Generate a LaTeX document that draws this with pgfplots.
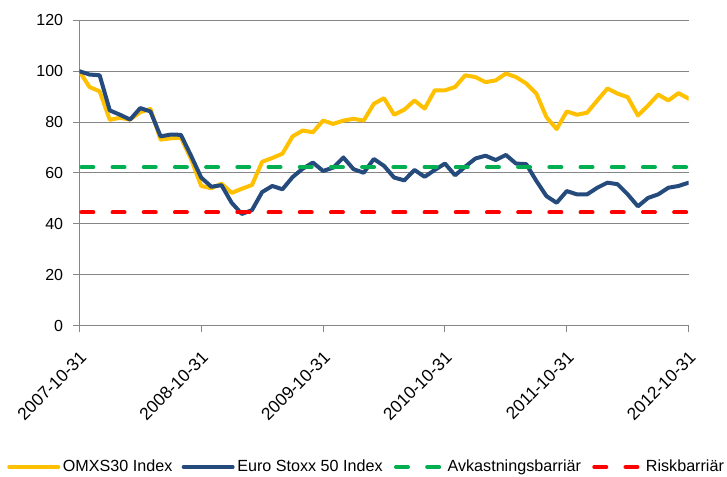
\documentclass[border=0pt]{standalone}
\usepackage{pgfplots}
\pgfplotsset{compat=1.18}
\usepackage{fontspec}
\setmainfont{Liberation Sans}
\definecolor{omx}{HTML}{FFC000}
\definecolor{eur}{HTML}{254A7C}
\definecolor{grn}{HTML}{00B050}
\definecolor{rd}{HTML}{FF0000}
\definecolor{axc}{HTML}{868686}
\begin{document}
\begin{tikzpicture}
\begin{axis}[
  at={(59.5pt,113.5pt)}, anchor=south west,
  scale only axis, width=457pt, height=229pt,
  xmin=0, xmax=60, ymin=0, ymax=120,
  axis x line=bottom, axis y line=left,
  axis line style={axc, line width=0.75pt, -},
  xtick={0,12,24,36,48,60},
  xticklabels={2007-10-31,2008-10-31,2009-10-31,2010-10-31,2011-10-31,2012-10-31},
  ytick={0,20,...,120},
  ymajorgrids, grid style={axc, line width=0.75pt},
  tick align=outside, major tick length=4.5pt,
  tick style={axc, line width=0.75pt},
  minor tick num=0,
  font=\fontsize{12}{14}\selectfont,
  /pgf/number format/assume math mode=true,
  yticklabel style={inner sep=0pt, anchor=east},
  yticklabel shift=7.5pt,
  xticklabel style={xshift=3pt, rotate=45, anchor=east, inner sep=0pt, font=\fontsize{13}{15}\selectfont},
  xticklabel shift=17pt,
  legend style={at={(-0.1187,-0.4629)}, anchor=west, draw=none, fill=none,
    inner sep=0pt, font=\fontsize{12.1}{14}\selectfont,
    /tikz/every even column/.append style={column sep=5pt}},
  legend columns=-1,
  legend image code/.code={\draw[#1] (0pt,0pt) -- (36.75pt,0pt);},
  every axis plot/.append style={line width=3pt, line join=round},
]
\addplot[omx, line cap=round] coordinates {
(0,100) (1,93.8) (2,92.1) (3,80.9) (4,81.7) (5,81.0) (6,83.9) (7,85.2) (8,73.1) (9,73.6)
(10,73.9) (11,65.5) (12,54.9) (13,54.0) (14,55.8) (15,52.2) (16,53.8) (17,55.3) (18,64.4) (19,65.9)
(20,67.6) (21,74.4) (22,76.7) (23,76.0) (24,80.6) (25,79.3) (26,80.6) (27,81.3) (28,80.6) (29,87.2)
(30,89.4) (31,82.9) (32,84.9) (33,88.5) (34,85.3) (35,92.5) (36,92.5) (37,93.8) (38,98.4) (39,97.7)
(40,95.7) (41,96.4) (42,99.1) (43,97.7) (44,95.2) (45,91.2) (46,81.9) (47,77.3) (48,84.2) (49,82.9)
(50,83.7) (51,88.5) (52,93.2) (53,91.2) (54,89.8) (55,82.6) (56,86.5) (57,90.8) (58,88.5) (59,91.4)
(60,89.2)};
\addlegendentry{OMXS30 Index}
\addplot[eur, line cap=round] coordinates {
(0,100) (1,98.7) (2,98.4) (3,84.6) (4,82.9) (5,81.0) (6,85.5) (7,84.2) (8,74.4) (9,75.1)
(10,75.0) (11,66.8) (12,58.2) (13,54.6) (14,55.2) (15,48.3) (16,43.9) (17,45.4) (18,52.5) (19,54.9)
(20,53.6) (21,58.4) (22,61.7) (23,64.1) (24,60.8) (25,62.1) (26,66.1) (27,61.5) (28,60.1) (29,65.5)
(30,62.8) (31,58.2) (32,57.1) (33,61.2) (34,58.5) (35,61.2) (36,63.7) (37,59.1) (38,62.5) (39,65.7)
(40,66.8) (41,65.1) (42,67.1) (43,63.7) (44,63.5) (45,56.9) (46,50.9) (47,48.3) (48,52.9) (49,51.6)
(50,51.6) (51,54.2) (52,56.2) (53,55.6) (54,51.6) (55,46.9) (56,50.2) (57,51.6) (58,54.2) (59,54.9)
(60,56.2)};
\addlegendentry{Euro Stoxx 50 Index}
\addplot[grn, line cap=round, dash pattern=on 9pt off 14.4pt, dash phase=21.9pt] coordinates {(0,62.3) (60,62.3)};
\addlegendentry{Avkastningsbarriär}
\addplot[rd, line cap=round, dash pattern=on 9pt off 14.4pt, dash phase=21.9pt] coordinates {(0,44.5) (60,44.5)};
\addlegendentry{Riskbarriär}
\end{axis}
\pgfresetboundingbox
\useasboundingbox (0pt,0pt) rectangle (545.25pt,357.75pt);
\end{tikzpicture}
\end{document}
